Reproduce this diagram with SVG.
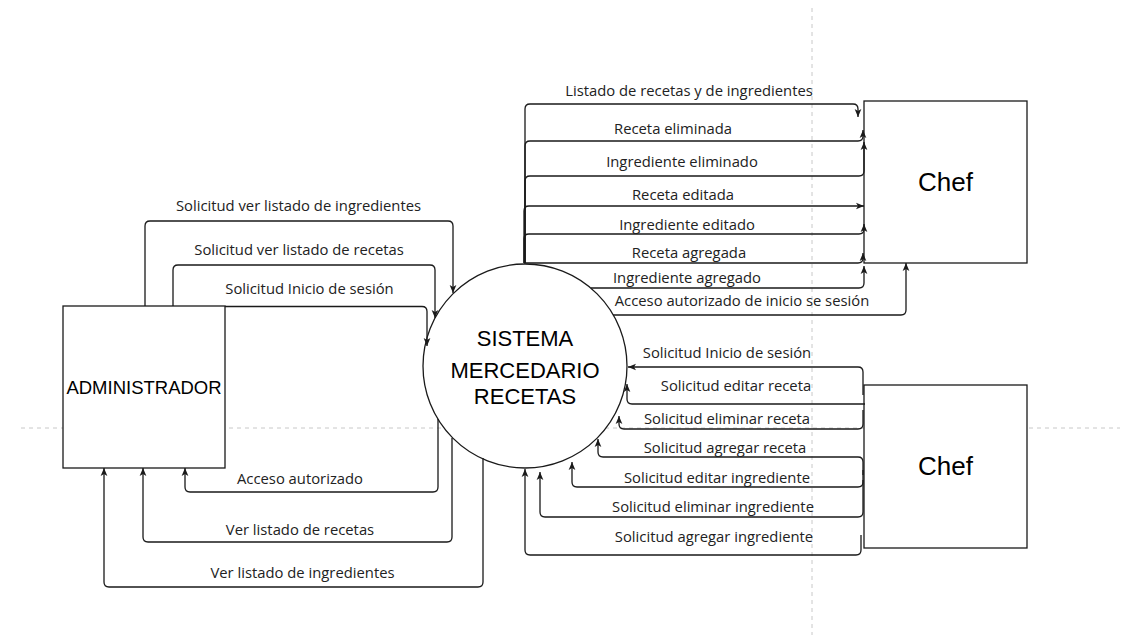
<svg xmlns="http://www.w3.org/2000/svg" width="1122" height="635" viewBox="0 0 1122 635">
<style>
.guide{stroke:#c8c8c8;stroke-width:1;stroke-dasharray:4 4;fill:none}
.node{fill:#ffffff;stroke:#1a1a1a;stroke-width:1.3}
.title{font-family:"Liberation Sans",Arial,sans-serif;fill:#000;text-anchor:middle}
.edge{fill:none;stroke:#1a1a1a;stroke-width:1.3;marker-end:url(#arr)}
.lbl{font-family:"Open Sans","Noto Sans",sans-serif;font-size:14.8px;fill:#222;text-anchor:middle}
</style>
<defs>
<marker id="arr" viewBox="0 0 10 10" refX="10" refY="5" markerWidth="8" markerHeight="8" markerUnits="userSpaceOnUse" orient="auto">
<path d="M0,0.8 L10,5 L0,9.2 L2.5,5 z" fill="#1a1a1a"/>
</marker>
</defs>
<rect width="1122" height="635" fill="#ffffff"/>
<g id="guides">
<line class="guide" x1="812" y1="8" x2="812" y2="635"/>
<line class="guide" x1="21" y1="428" x2="1120" y2="428"/>
</g>
<g id="admin">
<rect class="node" x="63" y="306" width="162" height="162"/>
<text class="title" x="144" y="394" font-size="18.5">ADMINISTRADOR</text>
</g>
<g id="sistema">
<circle class="node" cx="525" cy="366" r="102"/>
<text class="title" x="525" y="346" font-size="22">SISTEMA</text>
<text class="title" x="525" y="378" font-size="22">MERCEDARIO</text>
<text class="title" x="525" y="404" font-size="22">RECETAS</text>
</g>
<g id="chef1">
<rect class="node" x="864" y="101" width="163" height="162"/>
<text class="title" x="945.5" y="191" font-size="26">Chef</text>
</g>
<g id="chef2">
<rect class="node" x="864" y="385" width="163" height="163"/>
<text class="title" x="945.5" y="475" font-size="26">Chef</text>
</g>
<g id="connectors">
<path class="edge" d="M525,263 V109 Q525,104 530,104 H853 Q858,104 858,109 V117"/>
<path class="edge" d="M525,263 V146 Q525,141 530,141 H858 Q863,141 863,136 V130"/>
<path class="edge" d="M525,263 V181 Q525,176 530,176 H859 Q864,176 864,171 V142"/>
<path class="edge" d="M524,263 V211 Q524,206 529,206 H864"/>
<path class="edge" d="M524,263 V239 Q524,234 529,234 H859 Q864,234 864,229 V224"/>
<path class="edge" d="M524,263 H858 Q863,263 863,258 V253"/>
<path class="edge" d="M591,288 H859 Q864,288 864,283 V266"/>
<path class="edge" d="M613,315 H901 Q906,315 906,310 V263"/>

<path class="edge" d="M863,395 V372 Q863,367 858,367 H628"/>
<path class="edge" d="M865,404 H632 Q627,404 627,399 V384"/>
<path class="edge" d="M863,410 V424 Q863,429 858,429 H624 Q619,429 619,424 V416"/>
<path class="edge" d="M863,475 V462 Q863,457 858,457 H603 Q598,457 598,452 V439"/>
<path class="edge" d="M863,470 V482 Q863,487 858,487 H577 Q572,487 572,482 V462"/>
<path class="edge" d="M863,480 V512 Q863,517 858,517 H545 Q540,517 540,512 V472"/>
<path class="edge" d="M861,535 V550 Q861,555 856,555 H530 Q525,555 525,550 V469"/>

<path class="edge" d="M145,306 V226 Q145,221 150,221 H448 Q453,221 453,226 V293"/>
<path class="edge" d="M173,306 V270 Q173,265 178,265 H430 Q435,265 435,270 V318"/>
<path class="edge" d="M225,306.5 H422 Q427,306.5 427,311.5 V346"/>
<path class="edge" d="M438,419 V487 Q438,492 433,492 H190 Q185,492 185,487 V468"/>
<path class="edge" d="M452,438 V537 Q452,542 447,542 H148 Q143,542 143,537 V468"/>
<path class="edge" d="M483,458 V582 Q483,587 478,587 H109 Q104,587 104,582 V468"/>
</g>
<g id="labels">
<text class="lbl" x="689" y="96">Listado de recetas y de ingredientes</text>
<text class="lbl" x="673" y="134">Receta eliminada</text>
<text class="lbl" x="682" y="167">Ingrediente eliminado</text>
<text class="lbl" x="683" y="200">Receta editada</text>
<text class="lbl" x="687" y="230">Ingrediente editado</text>
<text class="lbl" x="689" y="258">Receta agregada</text>
<text class="lbl" x="687" y="283">Ingrediente agregado</text>
<text class="lbl" x="742" y="306">Acceso autorizado de inicio se sesión</text>

<text class="lbl" x="727" y="358">Solicitud Inicio de sesión</text>
<text class="lbl" x="736" y="391">Solicitud editar receta</text>
<text class="lbl" x="727" y="424">Solicitud eliminar receta</text>
<text class="lbl" x="725" y="453">Solicitud agregar receta</text>
<text class="lbl" x="717" y="483">Solicitud editar ingrediente</text>
<text class="lbl" x="713" y="512">Solicitud eliminar ingrediente</text>
<text class="lbl" x="714" y="542">Solicitud agregar ingrediente</text>

<text class="lbl" x="298.5" y="211">Solicitud ver listado de ingredientes</text>
<text class="lbl" x="299" y="255">Solicitud ver listado de recetas</text>
<text class="lbl" x="309.5" y="294">Solicitud Inicio de sesión</text>
<text class="lbl" x="300" y="484">Acceso autorizado</text>
<text class="lbl" x="300" y="535">Ver listado de recetas</text>
<text class="lbl" x="302.5" y="578">Ver listado de ingredientes</text>
</g>
</svg>
